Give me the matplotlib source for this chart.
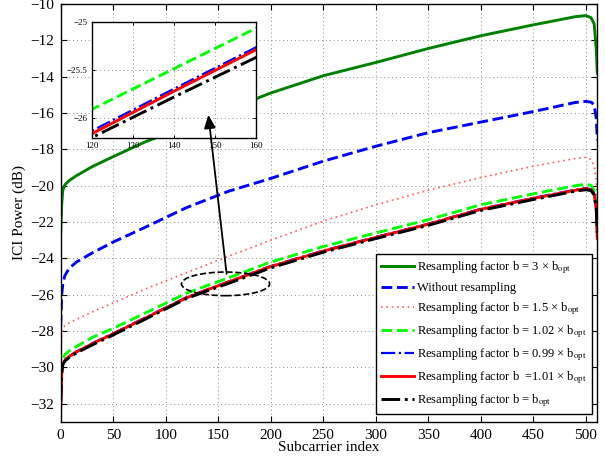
"""ICI power versus subcarrier index for several resampling factors."""

from __future__ import annotations

import matplotlib

matplotlib.use("Agg")
import matplotlib.pyplot as plt
from matplotlib.patches import Ellipse

subcarrier = [0, 1, 2, 4, 8, 15, 30, 50, 80, 120, 140, 160, 200, 250, 300,
              350, 400, 450, 490, 500, 505, 508, 510, 511]

ici_3x = [-22.6, -21.0, -20.25, -19.95, -19.72, -19.45, -18.95, -18.4, -17.6,
          -16.7, -16.25, -15.8, -14.9, -13.95, -13.22, -12.45, -11.75, -11.15,
          -10.7, -10.64, -10.75, -11.1, -12.5, -13.8]
ici_none = [-27.7, -26.0, -25.4, -24.95, -24.55, -24.2, -23.7, -23.1, -22.3,
            -21.2, -20.75, -20.3, -19.6, -18.65, -17.83, -17.08, -16.5, -15.92,
            -15.42, -15.36, -15.4, -15.55, -16.3, -17.5]
ici_1_5x = [-29.5, -28.3, -27.85, -27.7, -27.55, -27.35, -26.95, -26.45, -25.7,
            -24.78, -24.33, -23.88, -23.0, -21.95, -21.05, -20.25, -19.55,
            -18.93, -18.5, -18.44, -18.55, -18.9, -19.7, -21.0]
ici_1_02x = [-30.3, -29.7, -29.5, -29.3, -29.1, -28.85, -28.35, -27.85, -27.02,
             -25.907, -25.487, -25.068, -24.2, -23.35, -22.6, -21.87, -21.05,
             -20.45, -20.0, -19.92, -19.98, -20.25, -21.0, -22.6]
ici_0_99x = [-31.8, -30.25, -29.77, -29.57, -29.37, -29.12, -28.67, -28.12,
             -27.27, -26.13, -25.695, -25.265, -24.42, -23.57, -22.82, -22.09,
             -21.27, -20.67, -20.22, -20.13, -20.19, -20.42, -21.25, -22.8]
ici_1_01x = [-32.3, -30.3, -29.8, -29.6, -29.4, -29.15, -28.7, -28.15, -27.3,
             -26.16, -25.72, -25.29, -24.45, -23.6, -22.85, -22.12, -21.3,
             -20.7, -20.25, -20.16, -20.22, -20.45, -21.3, -22.9]
ici_opt = [-32.0, -30.35, -29.85, -29.65, -29.45, -29.2, -28.76, -28.21, -27.36,
           -26.2, -25.78, -25.37, -24.52, -23.66, -22.91, -22.18, -21.36,
           -20.76, -20.3, -20.22, -20.27, -20.5, -21.3, -22.6]

labels = [
    r"Resampling factor b = 3 × b$_{\rm opt}$",
    "Without resampling",
    r"Resampling factor b = 1.5 × b$_{\rm opt}$",
    r"Resampling factor b = 1.02 × b$_{\rm opt}$",
    r"Resampling factor b = 0.99 × b$_{\rm opt}$",
    r"Resampling factor b  =1.01 × b$_{\rm opt}$",
    r"Resampling factor b = b$_{\rm opt}$",
]

x_ticks = list(range(0, 501, 50))
y_ticks = list(range(-32, -9, 2))
inset_x_ticks = [120, 130, 140, 150, 160]
inset_y_ticks = [-26, -25.5, -25]

STYLES = [
    dict(color="#008000", linestyle="-", linewidth=2.1),
    dict(color="#0000ff", linestyle="--", linewidth=2.1),
    dict(color="#ff5a5a", linestyle=(0, (1.0, 2.2)), linewidth=1.2),
    dict(color="#00ff00", linestyle="--", linewidth=2.1),
    dict(color="#0000ff", linestyle="-.", linewidth=1.6),
    dict(color="#ff0000", linestyle="-", linewidth=2.1),
    dict(color="#000000", linestyle="-.", linewidth=2.1),
]
GRID = dict(color="#8c8c8c", linestyle=(0, (1, 3)), linewidth=0.7)


def _series():
    return [ici_3x, ici_none, ici_1_5x, ici_1_02x, ici_0_99x, ici_1_01x, ici_opt]


def main() -> None:
    plt.rcParams["font.family"] = ["Liberation Serif", "DejaVu Serif"]
    plt.rcParams["mathtext.fontset"] = "stix"

    fig = plt.figure(figsize=(6.05, 4.62), dpi=100)
    ax = fig.add_axes([0.1003, 0.0866, 0.887, 0.9048])

    for values, style, label in zip(_series(), STYLES, labels):
        ax.plot(subcarrier, values, label=label, **style)

    ax.set_xlim(0, 511)
    ax.set_ylim(-33, -10)
    ax.set_xticks(x_ticks)
    ax.set_yticks(y_ticks)
    ax.grid(True, **GRID)
    ax.tick_params(direction="in", top=True, right=True, length=4, width=0.8,
                   labelsize=11, pad=5)
    for spine in ax.spines.values():
        spine.set_linewidth(1.0)
    ax.set_xlabel("Subcarrier index", fontsize=11, labelpad=-1)
    ax.set_ylabel("ICI Power (dB)", fontsize=11, labelpad=3)

    ax.add_patch(Ellipse((157, -25.4), 84, 1.3, fill=False, edgecolor="black",
                         linestyle="--", linewidth=1.2, zorder=5))

    legend = ax.legend(loc="lower right", bbox_to_anchor=(0.990, 0.019),
                       borderaxespad=0, fontsize=9, fancybox=False,
                       framealpha=1, edgecolor="black", handlelength=2.6,
                       handletextpad=0.3, labelspacing=0.5)
    legend.get_frame().set_linewidth(1.0)

    inset = fig.add_axes([0.1516, 0.702, 0.2716, 0.2511])
    for values, style in zip(_series()[3:], STYLES[3:]):
        inset.plot(subcarrier, values, **style)
    inset.set_xlim(120, 160)
    inset.set_ylim(-26.2, -25)
    inset.set_xticks(inset_x_ticks)
    inset.set_yticks(inset_y_ticks)
    inset.set_yticklabels(["\u221226", "\u221225.5", "\u221225"])
    inset.grid(True, **GRID)
    inset.tick_params(direction="in", top=True, right=True, length=2.5,
                      width=0.7, labelsize=6.5, pad=3)
    for spine in inset.spines.values():
        spine.set_linewidth(1.0)

    inset.annotate("", xy=(140.6, -16.1), xycoords=ax.transData,
                   xytext=(158, -24.85), textcoords=ax.transData,
                   annotation_clip=False,
                   arrowprops=dict(arrowstyle="-|>,head_length=0.8,head_width=0.35",
                                   color="black", linewidth=1.3,
                                   shrinkA=0, shrinkB=0))

    fig.savefig("out.png", dpi=100)
    plt.close(fig)


if __name__ == "__main__":
    main()
